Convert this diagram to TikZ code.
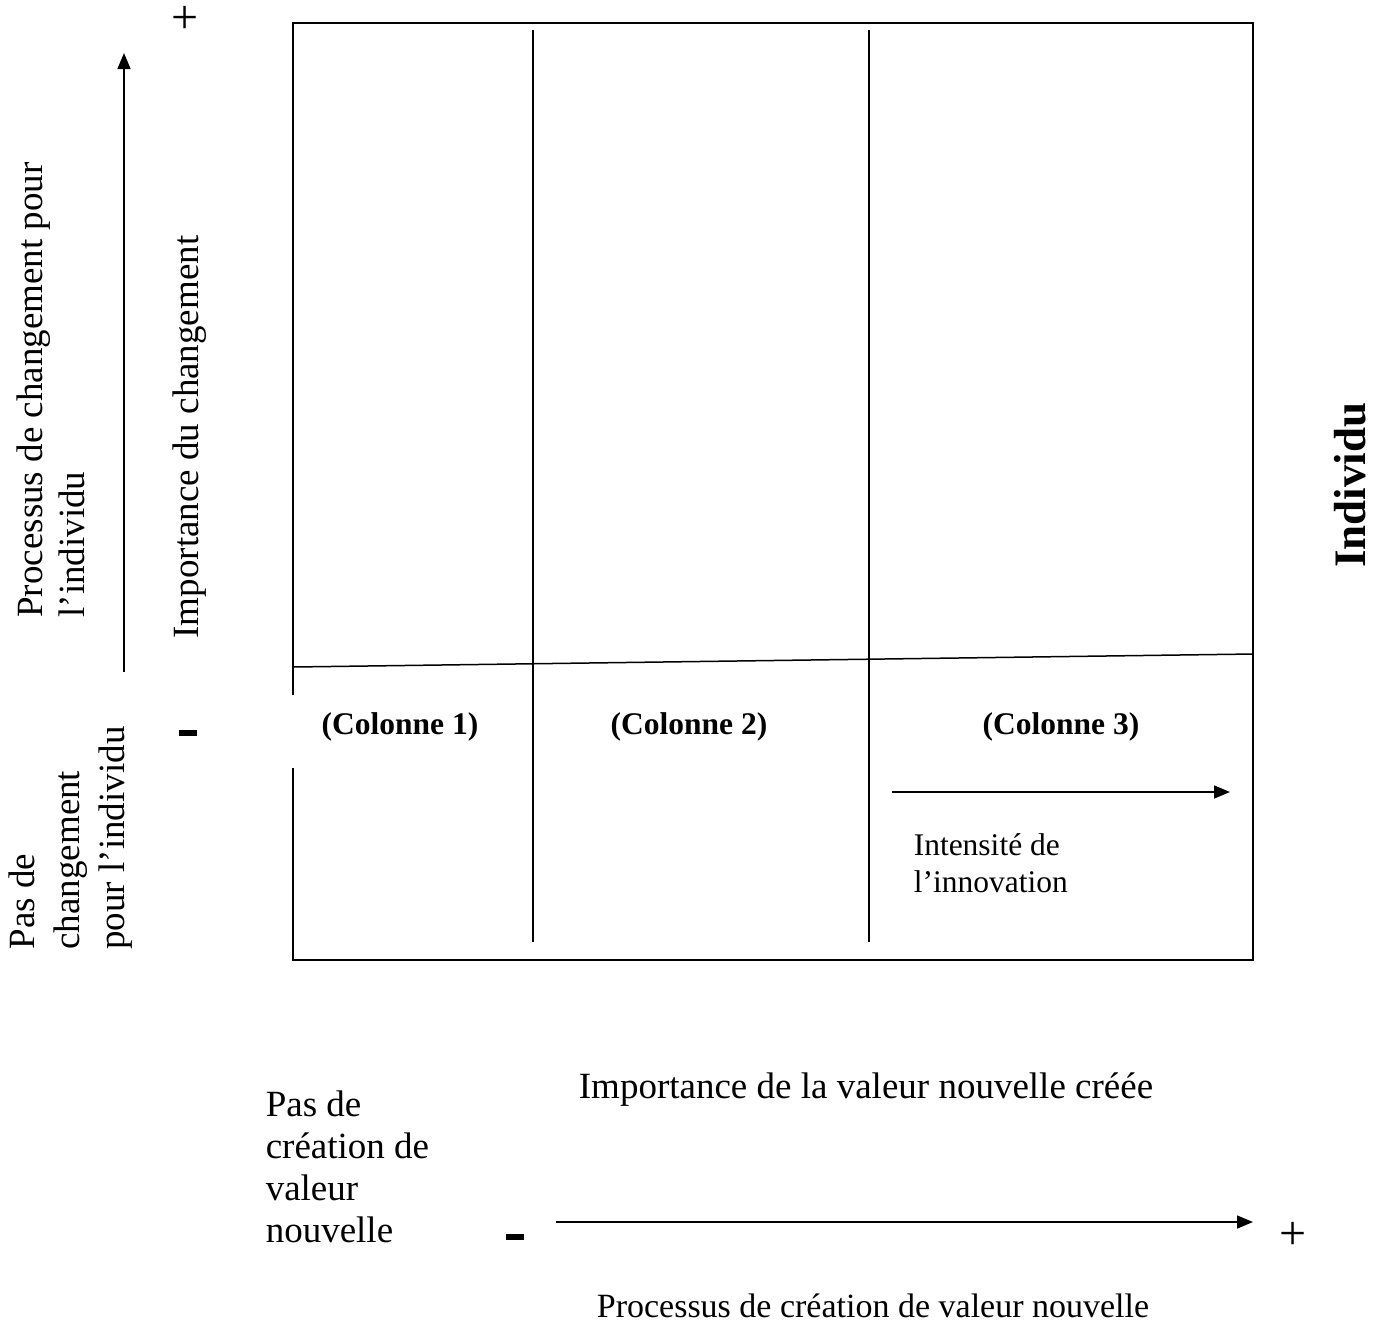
\documentclass[tikz,border=0pt]{standalone}
\usepackage{fontspec}
\setmainfont{Liberation Serif}
\usetikzlibrary{arrows.meta}
\begin{document}
\begin{tikzpicture}[x=1pt,y=-1pt,line width=1.5pt,
  every node/.style={font=\fontsize{37}{42}\selectfont,inner sep=0pt},
  colonne/.style={font=\fontsize{31.5}{36}\selectfont\bfseries},
  petit/.style={font=\fontsize{31.5}{37}\selectfont,align=left,anchor=north west},
  signe/.style={font=\fontsize{48}{48}\selectfont},
  moins/.style={fill=black,minimum width=18pt,minimum height=6pt},
  axe/.style={-{Triangle[length=16pt,width=13pt]}}]
\useasboundingbox (0,0) rectangle (1375,1326);
% cadre
\draw (293,695) -- (293,23) -- (1253,23) -- (1253,960) -- (293,960) -- (293,768);
\draw (533,30) -- (533,942);
\draw (869,30) -- (869,942);
\draw (293,667) -- (1253,654);
% colonnes
\node[colonne] (col1) at (400,727) {(Colonne 1)};
\node[colonne] (col2) at (689,727) {(Colonne 2)};
\node[colonne] (col3) at (1061,727) {(Colonne 3)};
\coordinate (i0) at (892,792);
\coordinate (i1) at (1230,792);
\draw[axe] (i0) -- (i1);
\node[petit] (inten) at (913,833) {Intensité de\\l’innovation};
% axe vertical
\coordinate (v0) at (124,672);
\coordinate (v1) at (124,53);
\draw[axe] (v0) -- (v1);
\node[signe] (vplus) at (185,20) {+};
\node[moins] (vmoins) at (188,733) {};
\node[rotate=90,align=left] (proc) at (51,390) {Processus de changement pour\\l’individu};
\node[rotate=90] (impch) at (190,437) {Importance du changement};
\node[rotate=90,align=left,font=\fontsize{37}{45}\selectfont] (pasch) at (71,838) {Pas de\\changement\\pour l’individu};
\node[rotate=90,font=\fontsize{45}{50}\selectfont\bfseries] (indiv) at (1350,485) {Individu};
% axe horizontal
\node[align=left,anchor=north west] (pascr) at (265,1090) {Pas de\\création de\\valeur\\nouvelle};
\node (impval) at (866,1090) {Importance de la valeur nouvelle créée};
\node[moins] (hmoins) at (515,1237) {};
\coordinate (h0) at (556,1222);
\coordinate (h1) at (1253,1222);
\draw[axe] (h0) -- (h1);
\node[signe] (hplus) at (1293,1236) {+};
\node[font=\fontsize{34}{40}\selectfont] (procval) at (873,1306) {Processus de création de valeur nouvelle};
\end{tikzpicture}
\end{document}
